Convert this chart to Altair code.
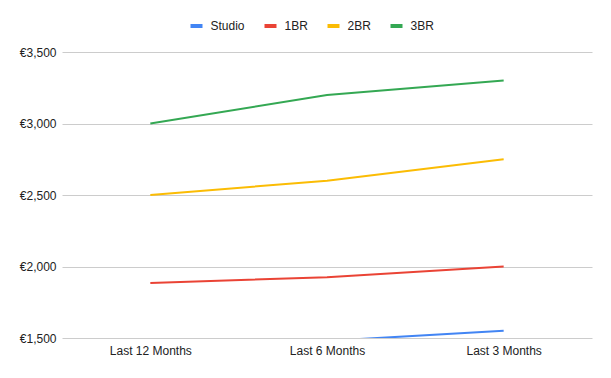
import altair as alt
import pandas as pd

periods = ["Last 12 Months", "Last 6 Months", "Last 3 Months"]
series = ["Studio", "1BR", "2BR", "3BR"]
studio = [1450, 1480, 1550]
br1 = [1885, 1925, 2000]
br2 = [2500, 2600, 2750]
br3 = [3000, 3200, 3300]
colors = ["#4285F4", "#EA4335", "#FBBC04", "#34A853"]
y_ticks = [1500, 2000, 2500, 3000, 3500]

rows = []
for name, vals in zip(series, [studio, br1, br2, br3]):
    for p, v in zip(periods, vals):
        rows.append({"period": p, "type": name, "rent": v})
df = pd.DataFrame(rows)

FONT = "Liberation Sans"

chart = alt.Chart(df).mark_line(clip=True, strokeWidth=2).encode(
    x=alt.X("period:N", sort=periods, title=None,
            scale=alt.Scale(type="point", padding=0.5),
            axis=alt.Axis(labelAngle=0, ticks=False, domain=False, grid=False,
                          labelPadding=7, labelFontSize=12, labelColor="#222222",
                          labelFont=FONT)),
    y=alt.Y("rent:Q", title=None,
            scale=alt.Scale(domain=[1500, 3500], nice=False, zero=False),
            axis=alt.Axis(values=y_ticks, ticks=False, domain=False,
                          labelExpr='"€" + format(datum.value, ",")',
                          labelPadding=6, labelFontSize=12, labelColor="#222222",
                          labelFont=FONT, gridColor="#cccccc")),
    color=alt.Color("type:N", sort=series,
                    scale=alt.Scale(domain=series, range=colors),
                    legend=alt.Legend(title=None, orient="none", direction="horizontal",
                                      legendX=126.5, legendY=-34,
                                      symbolType="stroke", symbolSize=144,
                                      symbolStrokeWidth=4, labelOffset=6,
                                      columnPadding=11, labelFontSize=12,
                                      labelColor="#222222", labelFont=FONT)),
).properties(
    width=530, height=286,
    autosize=alt.AutoSizeParams(type="none"),
    padding={"left": 62, "top": 52, "right": 19, "bottom": 40},
).configure_view(stroke=None)

chart.save("out.html", embed_options={"renderer": "svg", "actions": False})
